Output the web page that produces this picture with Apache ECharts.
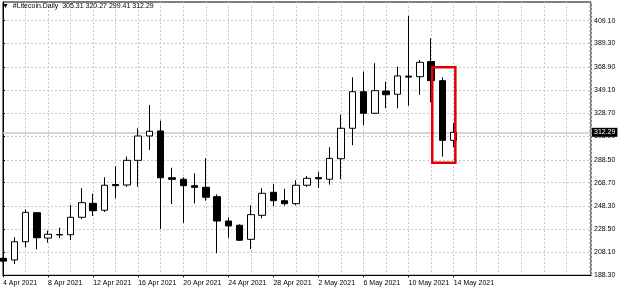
<!DOCTYPE html>
<html><head><meta charset="utf-8">
<script src="https://cdn.jsdelivr.net/npm/echarts@6/dist/echarts.min.js"></script>
<style>html,body{margin:0;padding:0;background:#fff}#c{width:620px;height:292px}</style>
</head><body><div id="c"></div>
<script>
const dates = ['4 Apr 2021','5 Apr 2021','6 Apr 2021','7 Apr 2021','8 Apr 2021','9 Apr 2021','10 Apr 2021','11 Apr 2021',
  '12 Apr 2021','13 Apr 2021','14 Apr 2021','15 Apr 2021','16 Apr 2021','17 Apr 2021','18 Apr 2021','19 Apr 2021',
  '20 Apr 2021','21 Apr 2021','22 Apr 2021','23 Apr 2021','24 Apr 2021','25 Apr 2021','26 Apr 2021','27 Apr 2021',
  '28 Apr 2021','29 Apr 2021','30 Apr 2021','1 May 2021','2 May 2021','3 May 2021','4 May 2021','5 May 2021',
  '6 May 2021','7 May 2021','8 May 2021','9 May 2021','10 May 2021','11 May 2021','12 May 2021','13 May 2021','14 May 2021'];
const openV  = [203.0,201.6,217.4,242.6,220.6,223.3,223.5,238.6,250.7,244.7,267.0,266.6,288.0,309.1,313.5,272.9,271.6,266.0,264.6,256.5,235.4,231.7,219.5,240.3,260.3,253.0,250.4,266.4,273.0,271.6,289.4,315.8,347.5,328.8,348.1,345.3,361.0,360.5,373.6,357.1,305.31];
const closeV = [200.6,217.4,242.9,220.9,223.9,223.7,238.6,251.3,244.3,266.4,266.0,288.0,309.1,313.2,272.9,271.5,266.0,264.6,256.0,235.4,231.1,218.7,240.9,259.4,253.0,250.4,266.4,272.4,272.0,289.7,315.8,347.5,328.8,348.4,344.9,361.2,360.2,373.0,357.1,305.31,312.29];
const lowV   = [200.0,198.1,212.6,210.8,216.6,220.6,218.9,237.1,239.7,243.2,255.1,265.1,265.1,297.0,228.5,250.1,233.9,250.7,253.0,207.4,220.9,218.0,211.1,237.7,248.4,248.7,249.0,265.1,264.0,266.9,271.6,301.1,318.4,328.3,333.1,333.1,335.4,344.7,338.3,291.2,299.41];
const highV  = [203.5,221.3,245.5,243.2,227.0,229.6,249.3,263.8,259.1,273.3,282.9,291.2,315.8,336.0,322.4,281.5,273.3,276.7,289.7,258.5,238.6,232.5,249.0,263.8,267.5,263.4,270.7,274.4,277.9,299.3,327.4,360.0,364.9,372.2,356.2,369.2,413.2,375.0,393.8,360.0,320.27];
const priceTicks = [188.30,208.10,228.50,248.30,268.70,288.50,308.90,328.70,349.10,368.90,389.30,409.10];
const dateTicks = [0,4,8,12,16,20,24,28,32,36,40];
const symbolName = '#Litecoin.Daily';
const lastIdx = dates.length - 1;
const lastPrice = closeV[lastIdx];
const highlight = {fromDay: 38.1, toDay: 40.15, top: 368.7, bottom: 285.8};

const FONT = '"Liberation Sans", Arial, sans-serif';
const candles = dates.map((d, i) => [i, openV[i], closeV[i], lowV[i], highV[i]]);
const xMin = 0, xMax = 52.19;

const chart = echarts.init(document.getElementById('c'), null, {renderer: 'canvas'});
chart.setOption({
  animation: false,
  backgroundColor: '#fff',
  textStyle: {fontFamily: FONT},
  title: {
    text: '\u25BC  ' + symbolName + '  ' + [openV[lastIdx], highV[lastIdx], lowV[lastIdx], closeV[lastIdx]].map(v => v.toFixed(2)).join(' '),
    left: 2, top: 3, padding: 0,
    textStyle: {fontSize: 7, fontWeight: 'normal', color: '#000', fontFamily: FONT}
  },
  grid: {left: 2, right: 29, top: 2, bottom: 16.7, show: true, borderColor: '#000', borderWidth: 1, backgroundColor: 'transparent'},
  xAxis: [{
    type: 'value', min: xMin, max: xMax, interval: 2, position: 'bottom',
    axisLine: {show: true, lineStyle: {color: '#000'}},
    axisTick: {show: false}, axisLabel: {show: false},
    splitLine: {show: true, lineStyle: {color: '#c8c8c8', type: [2, 2], width: 1}}
  }, {
    type: 'value', min: xMin, max: xMax, position: 'bottom',
    axisLine: {show: false},
    axisTick: {show: true, length: 2, customValues: dateTicks, lineStyle: {color: '#000'}},
    axisLabel: {show: true, customValues: dateTicks, align: 'left', margin: 4, fontSize: 7, color: '#000', fontFamily: FONT,
      formatter: v => dates[Math.round(v)] || ''},
    splitLine: {show: false}
  }],
  yAxis: {
    type: 'value', position: 'right', min: 188.3, max: 425.3, scale: true,
    axisLine: {show: true, lineStyle: {color: '#000'}},
    axisTick: {show: true, length: 2, customValues: priceTicks, lineStyle: {color: '#000'}},
    axisLabel: {show: true, customValues: priceTicks, margin: 3, fontSize: 7, color: '#000', fontFamily: FONT,
      formatter: v => v.toFixed(2)},
    splitLine: {show: true, lineStyle: {color: '#c8c8c8', type: [2, 2], width: 1}}
  },
  series: [{
    type: 'candlestick',
    xAxisIndex: 0, yAxisIndex: 0,
    barWidth: 7,
    data: candles,
    itemStyle: {color: '#fff', color0: '#000', borderColor: '#000', borderColor0: '#000', borderWidth: 1},
    markLine: {
      silent: true, symbol: 'none', z: 1, animation: false,
      lineStyle: {color: '#c8c8c8', type: 'solid', width: 1.5},
      label: {position: 'end', distance: 1, formatter: () => lastPrice.toFixed(2), backgroundColor: '#000', color: '#fff',
        fontSize: 7, padding: [1, 2, 1, 2], fontFamily: FONT},
      data: [{yAxis: lastPrice}]
    },
    markArea: {
      silent: true, z: 10,
      itemStyle: {color: 'rgba(0,0,0,0)', borderColor: '#e30000', borderWidth: 2.5},
      data: [[{coord: [highlight.fromDay, highlight.top]}, {coord: [highlight.toDay, highlight.bottom]}]]
    }
  }]
});
</script></body></html>
